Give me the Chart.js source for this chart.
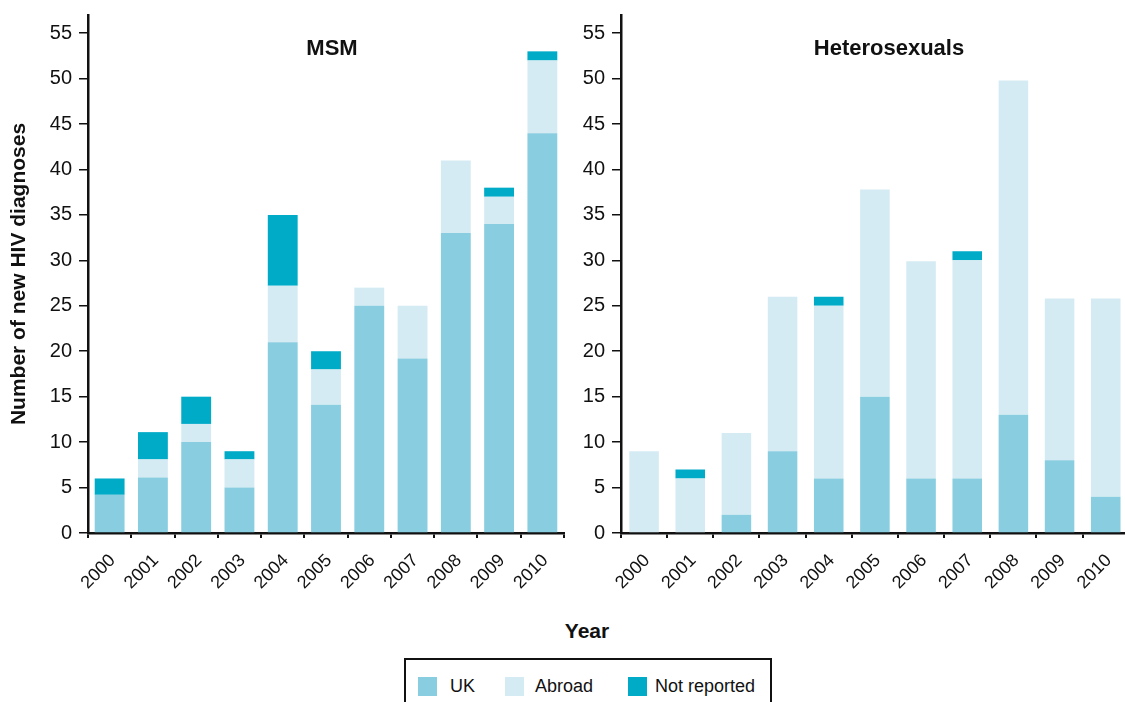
<!DOCTYPE html>
<html>
<head>
<meta charset="utf-8">
<script src="https://cdn.jsdelivr.net/npm/chart.js@4.4.1/dist/chart.umd.min.js"></script>
<style>
  body { margin: 0; width: 1125px; height: 702px; overflow: hidden; background: #fff; position: relative;
         font-family: "Liberation Sans", Arial, sans-serif; color: #111; }
  .wrap { position: absolute; top: 0; }
  .label { position: absolute; font-weight: bold; font-size: 22px; line-height: 26px; white-space: nowrap; transform: translateX(-50%); }
  #legend { position: absolute; left: 404px; top: 658px; width: 368px; height: 60px; border: 2px solid #111; box-sizing: border-box; }
  .sw { position: absolute; top: 17px; width: 19px; height: 19px; }
  .txt { position: absolute; top: 16px; font-size: 18px; line-height: 21px; white-space: nowrap; }
</style>
</head>
<body>
<div class="wrap" style="left:0; width:570px; height:610px;"><canvas id="msm"></canvas></div>
<div class="wrap" style="left:559px; width:574px; height:610px;"><canvas id="het"></canvas></div>
<div class="label" style="left:332px; top:35px;">MSM</div>
<div class="label" style="left:889px; top:35px;">Heterosexuals</div>
<div class="label" style="left:587px; top:618px; font-size:21px;">Year</div>
<div id="legend"></div>

<script>
const years = ["2000", "2001", "2002", "2003", "2004", "2005", "2006", "2007", "2008", "2009", "2010"];
const seriesNames = ["UK", "Abroad", "Not reported"];
const seriesColors = ["#89cde0", "#d4ebf3", "#00abc8"];

// MSM
const msmUK          = [4.2, 6.1, 10, 5, 21, 14.1, 25, 19.2, 33, 34, 44];
const msmAbroad      = [0, 2, 2, 3.1, 6.2, 3.9, 2, 5.8, 8, 3, 8];
const msmNotReported = [1.8, 3, 3, 0.9, 7.8, 2, 0, 0, 0, 1, 1];

// Heterosexuals
const hetUK          = [0, 0, 2, 9, 6, 15, 6, 6, 13, 8, 4];
const hetAbroad      = [9, 6, 9, 17, 19, 22.8, 23.9, 24, 36.8, 17.8, 21.8];
const hetNotReported = [0, 1, 0, 0, 1, 0, 0, 1, 0, 0, 0];

const yTicks = [0, 5, 10, 15, 20, 25, 30, 35, 40, 45, 50, 55];

const font = "'Liberation Sans', Arial, sans-serif";

function makeChart(id, data, yWidth, yTitle, padRight, barPct) {
  const datasets = data.map((values, i) => ({
    label: seriesNames[i],
    data: values,
    backgroundColor: seriesColors[i],
    borderWidth: 0,
    barPercentage: barPct,
    categoryPercentage: 1
  }));

  return new Chart(document.getElementById(id), {
    type: "bar",
    data: { labels: years, datasets: datasets },
    options: {
      responsive: true,
      maintainAspectRatio: false,
      animation: false,
      layout: { padding: { top: 15, right: padRight, left: 0, bottom: 0 } },
      plugins: { legend: { display: false }, tooltip: { enabled: false } },
      scales: {
        x: {
          stacked: true,
          grid: { drawOnChartArea: false, drawTicks: true, tickLength: 5, color: "#111", lineWidth: 2 },
          border: { display: true, color: "#111", width: 2.5 },
          ticks: { color: "#111", font: { family: font, size: 18 }, minRotation: 45, maxRotation: 45, padding: 12, labelOffset: 3 },
          afterFit: (s) => { s.height = 77; }
        },
        y: {
          stacked: true,
          min: 0,
          max: 57,
          afterBuildTicks: (s) => { s.ticks = yTicks.map(v => ({ value: v })); },
          grid: { drawOnChartArea: false, drawTicks: true, tickLength: 9, color: "#111", lineWidth: 1.5 },
          border: { display: true, color: "#111", width: 2.5 },
          ticks: { color: "#111", font: { family: font, size: 20 }, padding: 7 },
          title: {
            display: !!yTitle,
            text: yTitle,
            color: "#111",
            font: { family: font, size: 21, weight: "bold" },
            padding: { top: 7, bottom: 0 }
          },
          afterFit: (s) => { s.width = yWidth; s.paddingTop = 0; s.paddingBottom = 0; }
        }
      }
    }
  });
}

makeChart("msm", [msmUK, msmAbroad, msmNotReported], 88, "Number of new HIV diagnoses", 6, 0.69);
makeChart("het", [hetUK, hetAbroad, hetNotReported], 62, "", 0, 0.64);

// shared legend
const legend = document.getElementById("legend");
const swLefts = [12, 99, 222];
const txtLefts = [44, 129, 249];
seriesNames.forEach((name, i) => {
  const sw = document.createElement("div");
  sw.className = "sw";
  sw.style.left = swLefts[i] + "px";
  sw.style.background = seriesColors[i];
  legend.appendChild(sw);
  const t = document.createElement("div");
  t.className = "txt";
  t.style.left = txtLefts[i] + "px";
  t.textContent = name;
  legend.appendChild(t);
});
</script>
</body>
</html>
